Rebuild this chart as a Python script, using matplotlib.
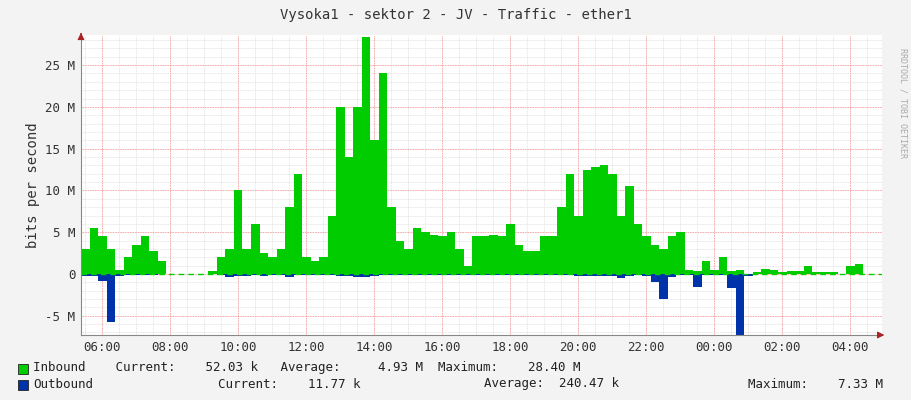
import matplotlib
matplotlib.use("Agg")
import matplotlib.pyplot as plt
import numpy as np

start_hour = 5.0 + 23/60
step_h = 0.25
inbound = [3,5.5,4.5,3,0.5,2,3.5,4.5,2.8,1.5,0,0,0,0,0,0.3,
           2,3,10,3,6,2.5,2,3,8,12,2,1.5,2,7,20,14,20,28.4,16,24,8,4,3,5.5,
           5,4.7,4.6,5,3,1,4.5,4.6,4.7,4.5,6,3.5,2.8,2.8,4.5,4.5,8,12,7,12.5,
           12.8,13,12,7,10.5,6,4.5,3.5,3,4.5,5,0.5,0.3,1.5,0.5,2,0.3,0.5,0,0.2,
           0.6,0.5,0.2,0.3,0.3,1,0.2,0.2,0.2,0,1,1.2,0,0,0]
outbound = [-0.2,-0.2,-0.8,-5.8,-0.2,-0.1,-0.1,-0.1,-0.1,0,0,0,0,0,0,0,
            -0.1,-0.3,-0.2,-0.2,-0.1,-0.2,-0.1,-0.1,-0.3,-0.1,-0.1,-0.1,-0.1,-0.1,-0.2,-0.2,-0.3,-0.3,-0.2,-0.1,-0.1,-0.1,-0.1,-0.1,
            -0.1,-0.1,-0.1,-0.1,-0.1,-0.1,-0.1,-0.1,-0.1,-0.1,-0.1,-0.1,-0.1,-0.1,-0.1,-0.1,-0.1,-0.1,-0.2,-0.2,
            -0.2,-0.2,-0.2,-0.5,-0.2,-0.1,-0.2,-1.0,-3.0,-0.3,-0.1,-0.1,-1.5,-0.1,-0.1,-0.1,-1.7,-7.3,-0.2,0,
            0,0,0,0,0,0,0,0,0,0,0,0,0,0,0]
ytick_vals = [-5,0,5,10,15,20,25]
ytick_labels = ["-5 M","0","5 M","10 M","15 M","20 M","25 M"]
xtick_hours = [6,8,10,12,14,16,18,20,22,24,26,28]
xtick_labels = ["06:00","08:00","10:00","12:00","14:00","16:00","18:00","20:00","22:00","00:00","02:00","04:00"]

x = start_hour + step_h*np.arange(len(inbound)+1)
inb = np.array(inbound+[inbound[-1]])
outb = np.array(outbound+[outbound[-1]])

fig = plt.figure(figsize=(9.11,4), dpi=100, facecolor="#f3f3f3")
ax = fig.add_axes([81/911, 65/400, 801/911, 300/400])
ax.set_facecolor("white")
x0, x1 = start_hour, start_hour + 801/34
ax.set_xlim(x0, x1); ax.set_ylim(-7.3, 28.6)
ax.fill_between(x, 0, inb, step="post", color="#00CC00", lw=0)
ax.fill_between(x, 0, outb, step="post", color="#0033AA", lw=0)
ax.axhline(0, color="#00CC00", lw=1, ls=(0,(4,3)))
for h in np.arange(5.5, 30, 0.5):
    ax.axvline(h, color="#dddddd", lw=0.6, ls=(0,(1,1)), zorder=0)
for v in np.arange(-7, 29, 1):
    ax.axhline(v, color="#dddddd", lw=0.6, ls=(0,(1,1)), zorder=0)
for h in xtick_hours:
    ax.axvline(h, color="#ff9090", lw=0.6, ls=(0,(1,1)), zorder=0)
for v in ytick_vals:
    ax.axhline(v, color="#ff9090", lw=0.6, ls=(0,(1,1)), zorder=0)
ax.set_xticks(xtick_hours); ax.set_xticklabels(xtick_labels)
ax.set_yticks(ytick_vals); ax.set_yticklabels(ytick_labels)
ax.tick_params(labelsize=9, colors="#333333", length=0, pad=4)
for lab in ax.get_xticklabels()+ax.get_yticklabels():
    lab.set_family("DejaVu Sans Mono")
for s in ["top","right"]:
    ax.spines[s].set_visible(False)
ax.spines["left"].set_color("#888888"); ax.spines["bottom"].set_color("#888888")
ax.annotate("", xy=(x1+0.15, -7.3), xytext=(x1-0.1, -7.3), xycoords="data",
            arrowprops=dict(arrowstyle="-|>", color="#aa2222", lw=0.8), annotation_clip=False)
ax.annotate("", xy=(x0, 29.2), xytext=(x0, 28.4),
            arrowprops=dict(arrowstyle="-|>", color="#aa2222", lw=0.8), annotation_clip=False)
ax.set_ylabel("bits per second", fontsize=10, family="DejaVu Sans Mono", color="#333333")
fig.text(0.5, 385/400, "Vysoka1 - sektor 2 - JV - Traffic - ether1", ha="center", va="center",
         fontsize=10, family="DejaVu Sans Mono", color="#333333")
fig.text(903/911, 0.88, "RRDTOOL / TOBI OETIKER", rotation=270, ha="center", va="top",
         fontsize=6, family="DejaVu Sans Mono", color="#aaaaaa")
mono = dict(fontsize=9, family="DejaVu Sans Mono", color="#222222", va="center")
fig.patches.append(plt.Rectangle((18/911, (400-374)/400), 10/911, 10/400,
                   transform=fig.transFigure, facecolor="#00CC00", edgecolor="#222222", lw=0.6))
fig.patches.append(plt.Rectangle((18/911, (400-390)/400), 10/911, 10/400,
                   transform=fig.transFigure, facecolor="#0033AA", edgecolor="#222222", lw=0.6))
fig.text(33/911, 1-368/400, "Inbound    Current:    52.03 k   Average:     4.93 M  Maximum:    28.40 M", **mono)
fig.text(33/911, 1-384/400, "Outbound", **mono)
fig.text(218/911, 1-384/400, "Current:    11.77 k", **mono)
fig.text(484/911, 1-384/400, "Average:  240.47 k", **mono)
fig.text(748/911, 1-384/400, "Maximum:    7.33 M", **mono)
fig.savefig("out.png", dpi=100, facecolor=fig.get_facecolor())
